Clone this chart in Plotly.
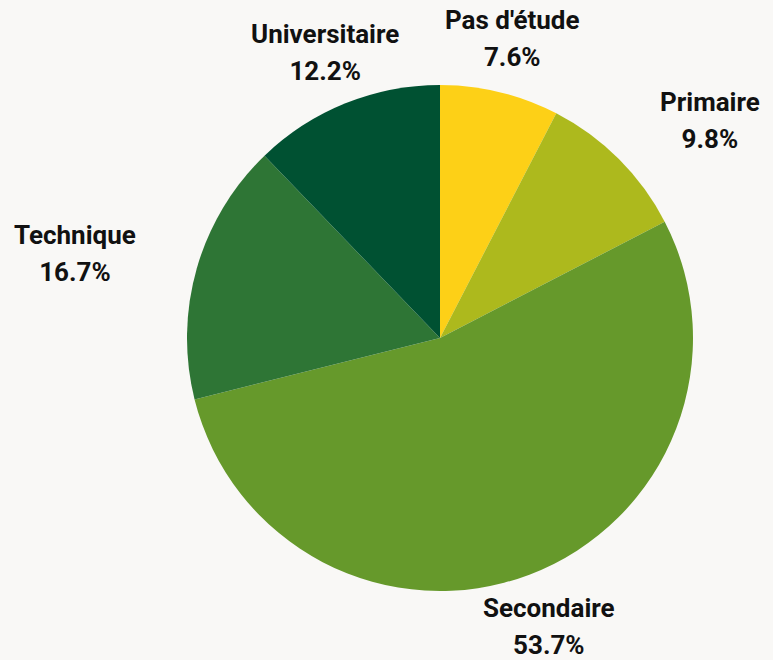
import math
import plotly.graph_objects as go

labels = ["Pas d'étude", "Primaire", "Secondaire", "Technique", "Universitaire"]
values = [7.6, 9.8, 53.7, 16.7, 12.2]
colors = ["#FDD017", "#ADB91D", "#66992B", "#2E7535", "#005132"]

W, H = 773, 660
ML, MR, MT, MB = 187, 80, 85, 69
pw, ph = W - ML - MR, H - MT - MB
R = min(pw, ph) / 2
cx, cy = ML + pw / 2, MT + ph / 2

fig = go.Figure(go.Pie(
    labels=labels, values=values, sort=False, direction="clockwise", rotation=0,
    marker=dict(colors=colors, line=dict(width=0)),
    textinfo="none", hoverinfo="label+percent", showlegend=False,
))

FS = 26            # glyph size
LINE_PITCH = 37    # distance between the two text lines
BASE_FS = LINE_PITCH / 1.3   # plotly line spacing is 1.3em of the base font
LABEL_R = R + 55
SPAN = "<span style='font-size:{}px'>{}</span>"
font = dict(family="Roboto", size=BASE_FS, color="#111111", weight="bold")

total = sum(values)
cum = 0.0
ann = []
for lab, v in zip(labels, values):
    mid = (cum + v / 2) / total * 2 * math.pi
    cum += v
    s, c = math.sin(mid), math.cos(mid)
    px = cx + LABEL_R * s
    py = cy - LABEL_R * c
    if s > 0.6:
        xa = "left"
    elif s < -0.6:
        xa = "right"
        px -= 6
    else:
        xa = "center"
    text = SPAN.format(FS, lab) + "<br>" + SPAN.format(FS, f"{v:.1f}%")
    ann.append(dict(
        x=(px - ML) / pw, y=(H - MB - py) / ph, xref="paper", yref="paper",
        text=text, showarrow=False, xanchor=xa, yanchor="middle", align="center",
        font=font,
    ))

fig.update_layout(
    width=W, height=H,
    margin=dict(l=ML, r=MR, t=MT, b=MB),
    paper_bgcolor="#F9F8F6", plot_bgcolor="#F9F8F6",
    annotations=ann,
)
fig.write_html("out.html", config={"displayModeBar": False},
               post_script="document.body.style.margin='0px';")
